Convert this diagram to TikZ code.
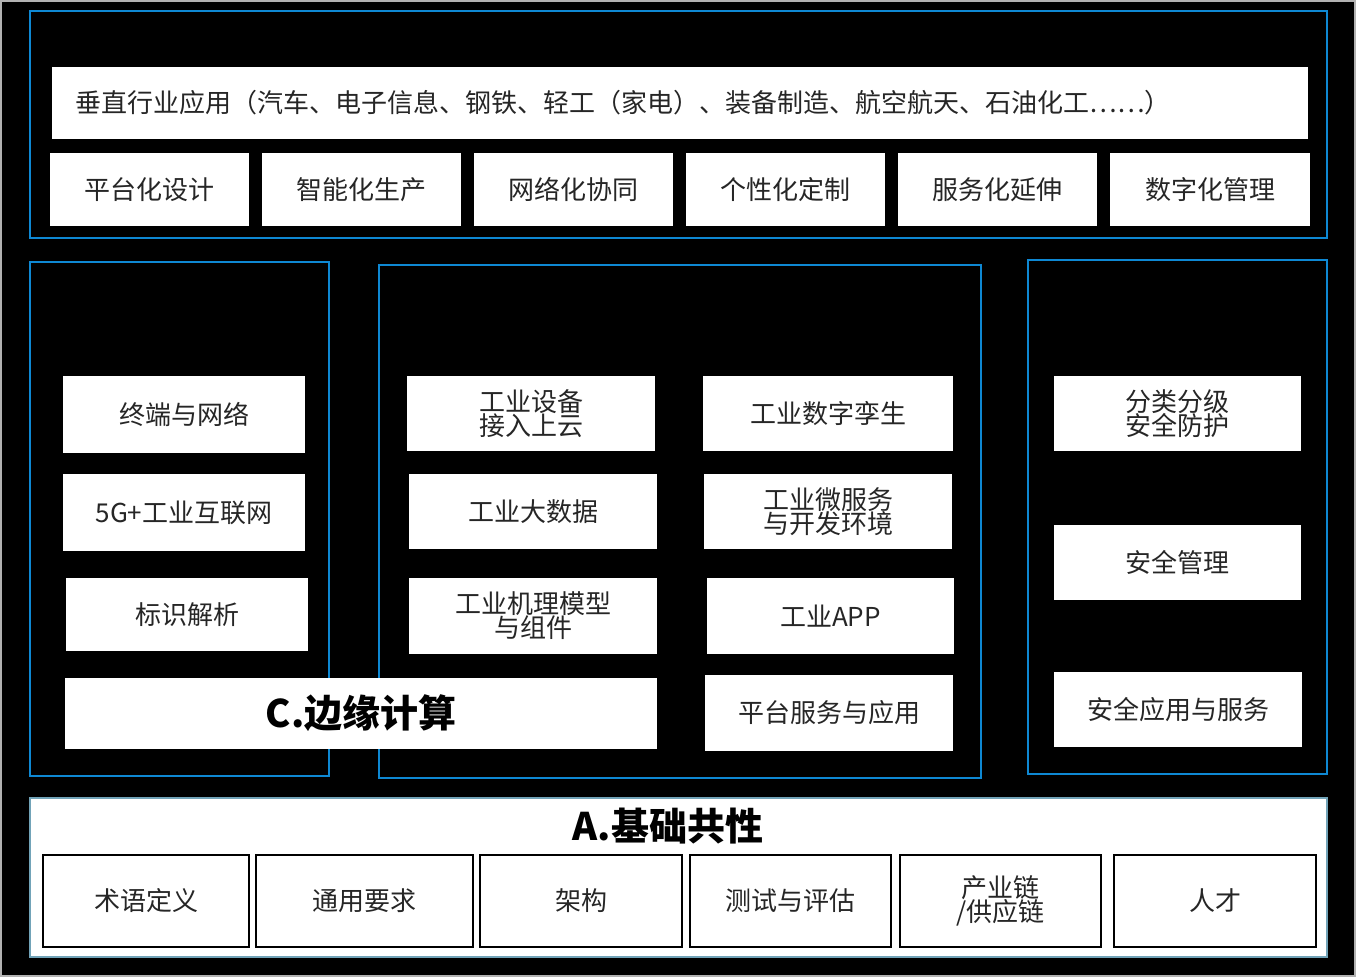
\documentclass[tikz,border=0pt]{standalone}
\usepackage{fontspec}
\setmainfont{Noto Sans CJK SC}
\begin{document}
\begin{tikzpicture}[x=1pt,y=-1pt,
  wb/.style={fill=white,draw=none,text=black!85,font=\fontsize{26}{30}\selectfont,align=center},
  bb/.style={fill=white,draw=black,line width=2.5pt,text=black!85,font=\fontsize{26}{30}\selectfont,align=center},
  blue/.style={draw=cyan!70!blue,line width=1.5pt}]
\fill[gray!60] (0,0) rectangle (1356,977);
\fill[black] (2,2) rectangle (1354,975);
\useasboundingbox (0,0) rectangle (1356,977);
\draw[blue] (30,11) rectangle (1327,238);
\draw[blue] (30,262) rectangle (329,776);
\draw[blue] (379,265) rectangle (981,778);
\draw[blue] (1028,260) rectangle (1327,774);
\newcommand{\bx}[6]{\node[#1,minimum width=#4-#2,minimum height=#5-#3,inner sep=0pt] (#6) at ({(#2+#4)/2},{(#3+#5)/2})}
\bx{wb}{52}{67}{1308}{139}{top}{};
\node[font=\fontsize{26}{30}\selectfont,text=black!85,anchor=west] (toptxt) at (72,103) {垂直行业应用（汽车、电子信息、钢铁、轻工（家电）、装备制造、航空航天、石油化工……）};
\bx{wb}{50}{153}{249}{226}{r1}{平台化设计};
\bx{wb}{262}{153}{461}{226}{r2}{智能化生产};
\bx{wb}{474}{153}{673}{226}{r3}{网络化协同};
\bx{wb}{686}{153}{885}{226}{r4}{个性化定制};
\bx{wb}{898}{153}{1097}{226}{r5}{服务化延伸};
\bx{wb}{1110}{153}{1310}{226}{r6}{数字化管理};
\bx{wb}{63}{376}{305}{453}{l1}{终端与网络};
\bx{wb}{63}{474}{305}{551}{l2}{5G+工业互联网};
\bx{wb}{66}{578}{308}{651}{l3}{标识解析};
\node[fill=white,minimum width=592,minimum height=71,inner sep=0pt,font=\bfseries\fontsize{38}{42}\selectfont,text=black] (edge) at (361,713.5) {C.边缘计算};
\bx{wb}{407}{376}{655}{451}{m1}{工业设备\\[-6pt]接入上云};
\bx{wb}{703}{376}{953}{451}{m2}{工业数字孪生};
\bx{wb}{409}{474}{657}{549}{m3}{工业大数据};
\bx{wb}{704}{474}{952}{549}{m4}{工业微服务\\[-6pt]与开发环境};
\bx{wb}{409}{578}{657}{654}{m5}{工业机理模型\\[-6pt]与组件};
\bx{wb}{707}{578}{954}{654}{m6}{工业APP};
\bx{wb}{705}{675}{953}{751}{m7}{平台服务与应用};
\bx{wb}{1054}{376}{1301}{451}{s1}{分类分级\\[-6pt]安全防护};
\bx{wb}{1054}{525}{1301}{600}{s2}{安全管理};
\bx{wb}{1054}{672}{1302}{747}{s3}{安全应用与服务};
\draw[fill=white,draw=gray!60!cyan,line width=2pt] (30,798) rectangle (1327,957);
\node[font=\bfseries\fontsize{38}{42}\selectfont,text=black] (base) at (668,826) {A.基础共性};
\bx{bb}{43}{855}{249}{947}{b1}{术语定义};
\bx{bb}{256}{855}{473}{947}{b2}{通用要求};
\bx{bb}{480}{855}{682}{947}{b3}{架构};
\bx{bb}{690}{855}{891}{947}{b4}{测试与评估};
\bx{bb}{900}{855}{1101}{947}{b5}{产业链\\[-6pt]/供应链};
\bx{bb}{1114}{855}{1316}{947}{b6}{人才};
\end{tikzpicture}
\end{document}
